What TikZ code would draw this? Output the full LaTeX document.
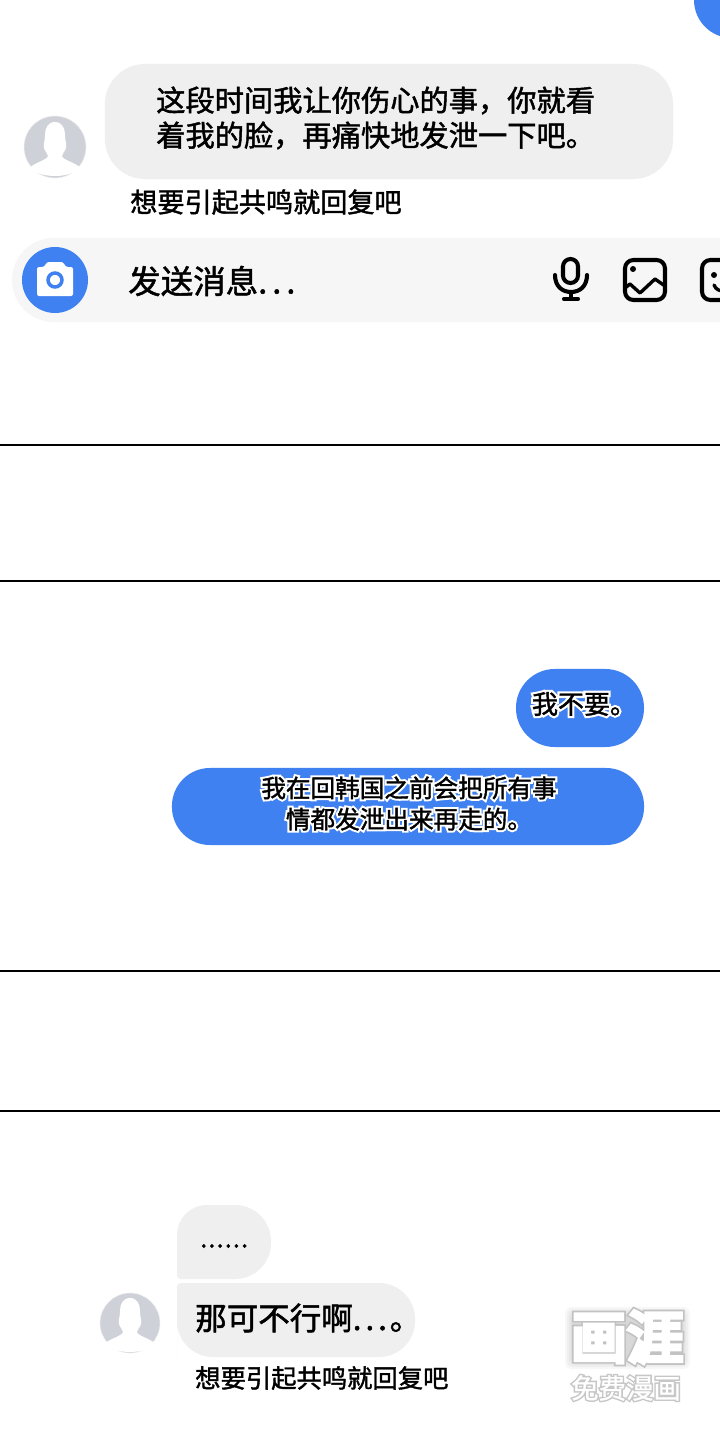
\documentclass[tikz,border=0pt]{standalone}
\usepackage{fontspec}
\setmainfont{Noto Sans CJK SC}[FakeBold=1.5]
\newfontfamily\halofont{Noto Sans CJK SC}[FakeBold=18]
\newfontfamily\titlehalo{Noto Sans CJK SC}[FakeBold=14]
\newfontfamily\titlefont{Noto Sans CJK SC}[FakeBold=8]
\newfontfamily\subhalo{Noto Sans CJK SC}[FakeBold=12]
\newfontfamily\subfont{Noto Sans CJK SC}[FakeBold=1]
\usepackage{tikz}
\usetikzlibrary{positioning, calc}
\definecolor{msgblue}{HTML}{3F81F0}
\definecolor{msggray}{HTML}{EFEFF0}
\definecolor{bargray}{HTML}{F6F6F6}
\definecolor{avatargray}{HTML}{CED1D8}
\newcommand{\halotext}[1]{\rlap{\color{white}\halofont #1}#1}
\newcommand{\widedots}[1]{.\kern#1.\kern#1.\kern2pt}

\begin{document}
\begin{tikzpicture}[x=0.025cm, y=-0.025cm,
    bubble/.style={draw=none, fill=msggray, rounded corners=0.95cm, minimum height=1.9cm, inner sep=0pt},
    bluebubble/.style={bubble, fill=msgblue},
    bluetext/.style={align=center, inner sep=0pt, font=\fontsize{17.5}{22.2}\selectfont},
    msgtext/.style={anchor=west, align=left, inner sep=0pt},
    hint/.style={anchor=west, inner sep=0pt},
    panelline/.style={line width=1.5pt},
    icon/.style={line width=2.9pt, line cap=round, line join=round},
    avatar/.style={circle, draw=black!6, line width=0.4pt, fill=avatargray, minimum size=1.5cm, inner sep=0pt},
    avatarman/.pic={
        \fill[white] (0,-25) .. controls (-7,-25) and (-10,-19) .. (-10,-12)
            .. controls (-10,-6) and (-12,-2) .. (-11,1)
            .. controls (-10,5) and (-7,6) .. (-7,9)
            .. controls (-8,13) and (-19,15) .. (-26,21) .. controls (-18,27) and (-9,29) .. (0,29)
            .. controls (9,29) and (18,27) .. (26,21)
            .. controls (19,15) and (8,13) .. (7,9)
            .. controls (7,6) and (10,5) .. (11,1)
            .. controls (12,-2) and (10,-6) .. (10,-12)
            .. controls (10,-19) and (7,-25) .. (0,-25) -- cycle;
    }
]
\clip (0,0) rectangle (720,1440);
\fill[white] (0,0) rectangle (720,1440);

% Top panel - corner of the previous bubble
\fill[msgblue] (760,-10) -- (694,-10) -- (694,0) arc[start angle=180, end angle=90, radius=38] -- (760,38) -- cycle;

% Top panel - received message
\node[bubble, minimum width=14.2cm, minimum height=2.875cm, rounded corners=1cm] (topmsg) at (389,121.5) {};
\node[msgtext, font=\fontsize{20.8}{24.9}\selectfont] (toptext) at (156,118) {这段时间我让你伤心的事，你就看\\着我的脸，再痛快地发泄一下吧。};
\node[avatar, minimum size=1.55cm] (topavatar) at (55,147) {};
\pic at (topavatar) {avatarman};
\node[hint, font=\fontsize{19.3}{22}\selectfont] (tophint) at (130,202) {想要引起共鸣就回复吧};

% Input bar
\fill[bargray] (760,238) -- (54,238) arc[start angle=270, end angle=90, radius=42] -- (760,322) -- cycle;
\node[circle, fill=msgblue, minimum size=1.65cm, inner sep=0pt] (camera) at (55,280) {};
\fill[white, rounded corners=1.5pt] (37,267) -- (44,267) -- (47,262) -- (63,262) -- (66,267) -- (73,267) -- (73,296) -- (37,296) -- cycle;
\draw[msgblue, line width=2.5pt, fill=white] (55,280) circle[radius=7];
\node[hint, font=\fontsize{23.1}{26}\selectfont] (sendtext) at (128,281) {发送消息\widedots{3.6pt}};

% Microphone icon
\draw[icon, rounded corners=5.3pt] (563,259) rectangle (578,283);
\draw[icon] (555,275) .. controls (555,286) and (562,292) .. (571,292) .. controls (580,292) and (587,286) .. (587,275);
\draw[icon] (571,292) -- (571,299) (564,299) -- (578,299);

% Image icon
\draw[icon, rounded corners=6pt] (625,260) rectangle (665,300);
\fill (633,269) circle[radius=3];
\draw[icon, line width=2.4pt] (625,288) -- (630,284) -- (640,293) -- (655,279) -- (665,286);

% Smiley icon, cut by the edge
\draw[icon, rounded corners=6pt] (702,260) rectangle (745,300);
\fill (714,275) circle[radius=3];
\draw[icon, line width=2.4pt] (714,285) .. controls (716,290) and (720,291) .. (724,291);

% Panel borders
\draw[panelline] (0,445) -- (720,445);
\draw[panelline] (0,581) -- (720,581);
\draw[panelline] (0,971) -- (720,971);
\draw[panelline] (0,1111) -- (720,1111);

% Sent messages
\node[bluebubble, minimum width=3.2cm, minimum height=1.95cm, rounded corners=0.97cm] (shortmsg) at (580,708) {};
\node[bluetext, font=\fontsize{18.5}{22.2}\selectfont] (shorttext) at (584,704) {\halotext{我不要。}};
\node[bluebubble, minimum width=11.8cm, minimum height=1.925cm] (longmsg) at (408,806.5) {};
\node[bluetext] (longtext) at (409,803.5) {\halotext{我在回韩国之前会把所有事}\\\halotext{情都发泄出来再走的。}};

% Bottom panel - two received messages
\fill[msggray] (177,1275) [rounded corners=0.75cm] -- (177,1205) [rounded corners=0.9cm] -- (271,1205) -- (271,1279) [rounded corners=0.1cm] -- (177,1279) -- cycle;
\fill[msggray] (177,1320) [rounded corners=0.1cm] -- (177,1283) [rounded corners=0.9cm] -- (415,1283) -- (415,1357) -- (177,1357) -- cycle;
\node[hint, font=\fontsize{18}{20}\selectfont] (dotstext) at (200,1246) {.\kern.8pt.\kern.8pt.\kern.8pt.\kern.8pt.\kern.8pt.};
\node[hint, font=\fontsize{22.4}{24}\selectfont] (midtext) at (195,1318) {那可不行啊\widedots{2.8pt}。};
\node[avatar] (botavatar) at (130,1323) {};
\pic at (botavatar) {avatarman};
\node[hint, font=\fontsize{18}{20}\selectfont] (bothint) at (195,1378) {想要引起共鸣就回复吧};

% Watermark - soft grey patch, then white letters
\foreach \grow in {0,2,...,8} {
    \fill[black, opacity=0.03, rounded corners=4pt] (573-\grow,1315-\grow) rectangle (682+\grow,1361+\grow);
}
\node[inner sep=0pt, font=\fontsize{40}{44}\selectfont] (marktitle) at (627,1337) {\rlap{\color{black!24}\titlehalo 画涯}{\color{white}\titlefont 画涯}};
\node[inner sep=0pt, font=\fontsize{19.5}{22}\selectfont] (marksub) at (626,1388) {\rlap{\color{black!22}\subhalo 免费漫画}{\color{white}\subfont 免费漫画}};
\end{tikzpicture}
\end{document}
